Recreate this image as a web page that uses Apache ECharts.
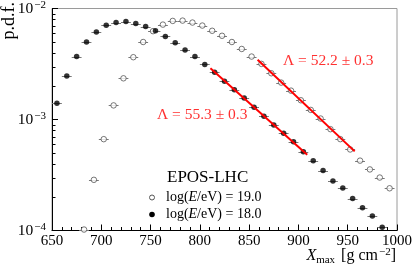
<!DOCTYPE html>
<html><head><meta charset="utf-8">
<script src="https://cdn.jsdelivr.net/npm/echarts@6/dist/echarts.min.js"></script>
<style>html,body{margin:0;padding:0;background:#fff}#c{width:415px;height:264px}</style>
</head><body><div id="c"></div>
<script>
// ---- data ----
const xTickValues = [650, 700, 750, 800, 850, 900, 950, 1000];
const yMajorTicks = [1e-4, 1e-3, 1e-2];
const yMinorTicks = [2e-4, 3e-4, 4e-4, 5e-4, 6e-4, 7e-4, 8e-4, 9e-4,
                     2e-3, 3e-3, 4e-3, 5e-3, 6e-3, 7e-3, 8e-3, 9e-3];
const binHalfWidth = 5;

const xOpen = [682.5, 692.5, 702.5, 712.5, 722.5, 732.5, 742.5, 752.5, 762.5, 772.5,
               782.5, 792.5, 802.5, 812.5, 822.5, 832.5, 842.5, 852.5, 862.5, 872.5,
               882.5, 892.5, 902.5, 912.5, 922.5, 932.5, 942.5, 952.5, 962.5, 972.5,
               982.5, 992.5];
const yOpen = [1.02e-4, 2.86e-4, 6.65e-4, 1.34e-3, 2.35e-3, 3.64e-3, 4.99e-3, 6.25e-3, 7.16e-3, 7.73e-3,
               7.78e-3, 7.47e-3, 7.02e-3, 6.30e-3, 5.68e-3, 4.99e-3, 4.32e-3, 3.69e-3, 3.17e-3, 2.61e-3,
               2.15e-3, 1.82e-3, 1.49e-3, 1.22e-3, 1.02e-3, 8.18e-4, 6.65e-4, 5.37e-4, 4.26e-4, 3.55e-4,
               3.00e-4, 2.40e-4];

const xFilled = [655, 665, 675, 685, 695, 705, 715, 725, 735, 745,
                 755, 765, 775, 785, 795, 805, 815, 825, 835, 845,
                 855, 865, 875, 885, 895, 905, 915, 925, 935, 945,
                 955, 965, 975, 985];
const yFilled = [1.40e-3, 2.46e-3, 3.69e-3, 4.99e-3, 6.13e-3, 7.08e-3, 7.47e-3, 7.62e-3, 7.32e-3, 6.88e-3,
                 6.30e-3, 5.60e-3, 4.92e-3, 4.23e-3, 3.69e-3, 3.13e-3, 2.66e-3, 2.21e-3, 1.85e-3, 1.56e-3,
                 1.29e-3, 1.07e-3, 8.9e-4, 7.5e-4, 6.3e-4, 5.13e-4, 4.26e-4, 3.47e-4, 2.79e-4, 2.41e-4,
                 1.94e-4, 1.60e-4, 1.35e-4, 1.07e-4];

const fit18X = [810.7, 908.9];
const fit18Y = [2.90e-3, 4.82e-4];
const fit19X = [858.6, 957.1];
const fit19Y = [3.45e-3, 5.16e-4];
const fitLabels = ['Λ = 55.3 ± 0.3', 'Λ = 52.2 ± 0.3'];
const legendTitle = 'EPOS-LHC';
const legendEntries = ['19.0', '18.0'];

// ---- chart ----
const FONT = '"Liberation Serif", "Times New Roman", serif';
const chart = echarts.init(document.getElementById('c'), null, {renderer: 'canvas'});
const xMin = 650, xMax = 1000;

function zip(xs, ys) { return xs.map((x, i) => [x, ys[i]]); }

const minus = '\u2212';
function binBar(params, api) {
  const a = api.coord([api.value(0) - binHalfWidth, api.value(1)]);
  const b = api.coord([api.value(0) + binHalfWidth, api.value(1)]);
  const y = Math.round(a[1]) + 0.5;
  return {type: 'line', shape: {x1: a[0], y1: y, x2: b[0], y2: y}, style: {stroke: '#777', lineWidth: 1}};
}
const option = {
  animation: false,
  grid: {left: 52, top: 6.5, width: 348, height: 224, show: true, borderColor: '#9a9a9a', borderWidth: 1, backgroundColor: 'transparent'},
  xAxis: {
    type: 'value', min: xMin, max: xMax, interval: 50,
    axisLine: {show: true, lineStyle: {color: '#000', width: 1}},
    axisTick: {show: true, inside: true, length: 6, lineStyle: {color: '#000'}},
    minorTick: {show: true, splitNumber: 5, length: 3.5, lineStyle: {color: '#000'}},
    splitLine: {show: false},
    axisLabel: {color: '#000', fontFamily: FONT, fontSize: 15, margin: 3,
      formatter: v => xTickValues.includes(v) ? String(v) : ''}
  },
  yAxis: {
    type: 'log', logBase: 10, min: yMajorTicks[0], max: yMajorTicks[yMajorTicks.length - 1],
    axisLine: {show: true, lineStyle: {color: '#000', width: 1}},
    axisTick: {show: true, inside: true, length: 6, lineStyle: {color: '#000'}},
    splitLine: {show: false},
    axisLabel: {
      margin: 6,
      formatter: v => '{b|10}{s|' + minus + Math.round(-Math.log10(v)) + '}',
      rich: {
        b: {fontFamily: FONT, fontSize: 15.5, color: '#000', lineHeight: 17, verticalAlign: 'bottom'},
        s: {fontFamily: FONT, fontSize: 11, color: '#000', lineHeight: 17, verticalAlign: 'top', padding: [0, 0, 7, 1]}
      }
    }
  },
  series: [
    { // y minor ticks
      type: 'custom', silent: true, clip: false,
      data: yMinorTicks.map(v => [xMin, v]),
      renderItem: (params, api) => {
        const p = api.coord([api.value(0), api.value(1)]);
        const y = Math.round(p[1]) + 0.5;
        return {type: 'line', shape: {x1: p[0], y1: y, x2: p[0] + 3.5, y2: y}, style: {stroke: '#000', lineWidth: 1}};
      }
    },
    {type: 'custom', silent: true, data: zip(xOpen, yOpen), renderItem: binBar},
    {type: 'custom', silent: true, data: zip(xFilled, yFilled), renderItem: binBar},
    {
      type: 'scatter', data: zip(xOpen, yOpen), symbol: 'circle', symbolSize: 5.5, z: 3,
      itemStyle: {color: '#fff', borderColor: '#555', borderWidth: 1}
    },
    {
      type: 'scatter', data: zip(xFilled, yFilled), symbol: 'circle', symbolSize: 5.5, z: 3,
      itemStyle: {color: '#000', borderColor: '#000', borderWidth: 0}
    },
    {
      type: 'line', data: zip(fit18X, fit18Y), showSymbol: false, symbol: 'none', z: 4,
      lineStyle: {color: '#ff0000', width: 2}
    },
    {
      type: 'line', data: zip(fit19X, fit19Y), showSymbol: false, symbol: 'none', z: 4,
      lineStyle: {color: '#ff0000', width: 2}
    }
  ]
};
option.graphic = [
  {type: 'text', x: 9, y: 2, rotation: Math.PI / 2, silent: true,
   style: {text: 'p.d.f.', fontFamily: FONT, fontSize: 18, fill: '#000', align: 'right', verticalAlign: 'middle'}},
  {type: 'text', x: 396, y: 256, silent: true,
   style: {text: '{i|X}{sub|max} [g cm{sup|' + minus + '2}]', fontFamily: FONT, fontSize: 16, fill: '#000',
     align: 'right', verticalAlign: 'middle',
     rich: {
       i: {fontFamily: FONT, fontSize: 16, fontStyle: 'italic', fill: '#000', lineHeight: 19},
       sub: {fontFamily: FONT, fontSize: 11, fill: '#000', lineHeight: 19, verticalAlign: 'bottom', padding: [6, 2, 0, 0]},
       sup: {fontFamily: FONT, fontSize: 11, fill: '#000', lineHeight: 19, verticalAlign: 'top', padding: [0, 0, 6, 1]}
     }}},
  {type: 'text', x: 167, y: 178, silent: true,
   style: {text: legendTitle, fontFamily: FONT, fontSize: 17, fill: '#000', align: 'left', verticalAlign: 'middle'}},
  {type: 'circle', shape: {cx: 152, cy: 197.5, r: 2.5}, silent: true, style: {fill: '#fff', stroke: '#555', lineWidth: 1}},
  {type: 'circle', shape: {cx: 152, cy: 214.5, r: 2.8}, silent: true, style: {fill: '#000'}},
  {type: 'text', x: 166, y: 197.5, silent: true,
   style: {text: 'log({i|E}/eV) = ' + legendEntries[0], fontFamily: FONT, fontSize: 14, fill: '#000', align: 'left', verticalAlign: 'middle',
     rich: {i: {fontFamily: FONT, fontSize: 14, fontStyle: 'italic', fill: '#000'}}}},
  {type: 'text', x: 166, y: 214.5, silent: true,
   style: {text: 'log({i|E}/eV) = ' + legendEntries[1], fontFamily: FONT, fontSize: 14, fill: '#000', align: 'left', verticalAlign: 'middle',
     rich: {i: {fontFamily: FONT, fontSize: 14, fontStyle: 'italic', fill: '#000'}}}},
  {type: 'text', x: 157, y: 115, silent: true, z: 10,
   style: {text: fitLabels[0], fontFamily: FONT, fontSize: 15.5, fill: '#ff3030', align: 'left', verticalAlign: 'middle'}},
  {type: 'text', x: 283, y: 61, silent: true, z: 10,
   style: {text: fitLabels[1], fontFamily: FONT, fontSize: 15.5, fill: '#ff3030', align: 'left', verticalAlign: 'middle'}}
];
chart.setOption(option);
</script>
</body></html>
